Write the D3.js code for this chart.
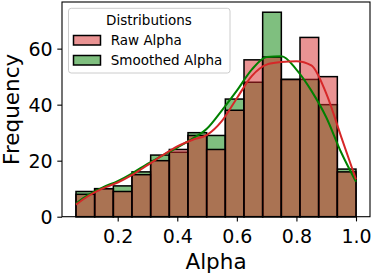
<!DOCTYPE html>
<html><head><meta charset="utf-8">
<script src="https://cdn.jsdelivr.net/npm/d3@7"></script>
<style>body{margin:0;background:#fff}svg{display:block}text{font-family:"DejaVu Sans",sans-serif;fill:#000}</style>
</head><body>
<svg id="c" width="374" height="274"></svg>
<script>
// Histogram bins (alpha value range) and counts
const binStart = 0.06, binEnd = 1.0, binCount = 15;
const rawCounts      = [8,10,9,15,20,24,29,24,38,56,57,49,64,50,16];
const smoothedCounts = [9,10,11,16,22,23,30,29,42,48,73,49,49,40,17];
// KDE curves (scaled to counts)
const kdeX        = [0.06,0.1,0.15,0.2,0.25,0.3,0.35,0.4,0.45,0.5,0.55,0.6,0.65,0.7,0.75,0.8,0.85,0.9,0.95,1.0];
const rawKde      = [4.3,7.3,10.1,12.2,15.0,18.4,21.9,25.1,27.4,29.2,34.2,42.3,50.2,54.3,55.2,55.5,54.0,44.0,28.6,13.3];
const smoothedKde = [4.7,7.7,10.5,12.7,15.6,18.9,21.8,24.7,27.8,31.5,38.0,45.0,52.5,57.0,57.3,52.5,45.0,35.5,23.0,12.5];
const seriesNames = ["Raw Alpha","Smoothed Alpha"];
const legendTitle = "Distributions";
const xTicks = [0.2,0.4,0.6,0.8,1.0];
const yTicks = [0,20,40,60];

const colRed = "#d62728", colGreen = "#008000";
const svg = d3.select("#c");
const L = 62, R = 370, T = 2, B = 216.7;
const span = binEnd - binStart;
const x = d3.scaleLinear().domain([binStart - 0.05*span, binEnd + 0.05*span]).range([L, R]);
const yMax = d3.max(rawCounts.concat(smoothedCounts)) * 1.05;
const y = d3.scaleLinear().domain([0, yMax]).range([B, T]);
const bw = span / binCount;

function bars(counts, color) {
  svg.append("g").selectAll("rect").data(counts).join("rect")
    .attr("x", (d,i) => x(binStart + i*bw))
    .attr("width", (d,i) => x(binStart + (i+1)*bw) - x(binStart + i*bw))
    .attr("y", d => y(d))
    .attr("height", d => y(0) - y(d))
    .attr("fill", color).attr("fill-opacity", 0.5)
    .attr("stroke", "#000").attr("stroke-width", 1.5);
}
bars(smoothedCounts, colGreen);
bars(rawCounts, colRed);

const line = d3.line().x(d => x(d[0])).y(d => y(d[1])).curve(d3.curveMonotoneX);
svg.append("path").attr("d", line(kdeX.map((v,i)=>[v, smoothedKde[i]])))
  .attr("fill","none").attr("stroke",colGreen).attr("stroke-width",2);
svg.append("path").attr("d", line(kdeX.map((v,i)=>[v, rawKde[i]])))
  .attr("fill","none").attr("stroke",colRed).attr("stroke-width",2);

// frame
svg.append("rect").attr("x",L).attr("y",T).attr("width",R-L).attr("height",B-T)
  .attr("fill","none").attr("stroke","#000").attr("stroke-width",1.1);

// axes
const xAxis = d3.axisBottom(x).tickValues(xTicks).tickFormat(d3.format(".1f")).tickSize(4.7).tickPadding(4);
const gx = svg.append("g").attr("transform",`translate(0,${B})`).call(xAxis);
gx.select(".domain").remove();
gx.selectAll("line").attr("stroke","#000").attr("stroke-width",1.1);
gx.selectAll("text").attr("font-size",19).attr("font-family","DejaVu Sans").attr("dy",null).attr("y",26.6);

const yAxis = d3.axisLeft(y).tickValues(yTicks).tickSize(4.7).tickPadding(4.7);
const gy = svg.append("g").attr("transform",`translate(${L},0)`).call(yAxis);
gy.select(".domain").remove();
gy.selectAll("line").attr("stroke","#000").attr("stroke-width",1.1);
gy.selectAll("text").attr("font-size",19).attr("font-family","DejaVu Sans").attr("dy","0.36em");

svg.append("text").attr("x",(L+R)/2).attr("y",268.5).attr("text-anchor","middle")
  .attr("font-size",21.5).text("Alpha");
svg.append("text").attr("transform",`translate(18.7,${(T+B)/2}) rotate(-90)`).attr("text-anchor","middle")
  .attr("font-size",21.5).text("Frequency");

// legend
const lg = svg.append("g");
lg.append("rect").attr("x",68.5).attr("y",8.3).attr("width",161.5).attr("height",64.7).attr("rx",2.7)
  .attr("fill","#fff").attr("fill-opacity",0.8).attr("stroke","#cccccc").attr("stroke-width",1);
lg.append("text").attr("x",149).attr("y",25).attr("text-anchor","middle").attr("font-size",13.5).text(legendTitle);
[colRed,colGreen].forEach((c,i)=>{
  const yy = 35.5 + i*20;
  lg.append("rect").attr("x",73.5).attr("y",yy).attr("width",27).attr("height",9.5)
    .attr("fill",c).attr("fill-opacity",0.5).attr("stroke","#000").attr("stroke-width",1.5);
  lg.append("text").attr("x",110.7).attr("y",yy+9.7).attr("font-size",13.5).text(seriesNames[i]);
});
</script>
</body></html>
